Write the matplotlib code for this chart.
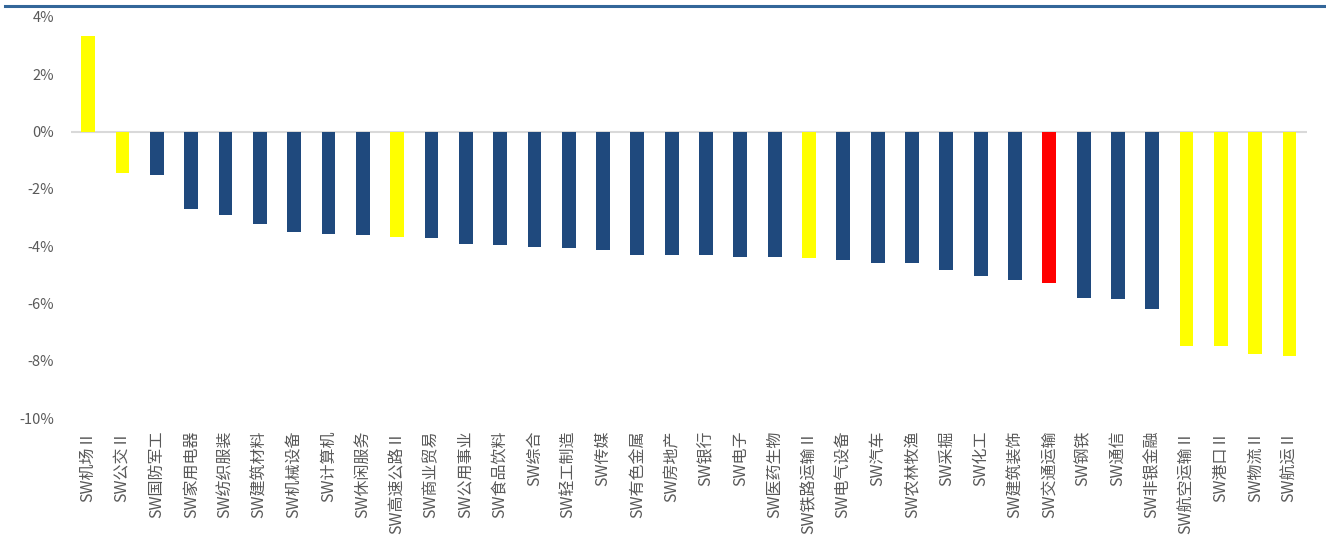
import matplotlib
matplotlib.use('Agg')
import matplotlib.pyplot as plt
from matplotlib.lines import Line2D
from matplotlib.ticker import FuncFormatter

plt.rcParams['font.family'] = ['Noto Sans CJK SC', 'DejaVu Sans']

# 申万行业周涨跌幅（%）
industries = [
    'SW机场Ⅱ', 'SW公交Ⅱ', 'SW国防军工', 'SW家用电器', 'SW纺织服装', 'SW建筑材料',
    'SW机械设备', 'SW计算机', 'SW休闲服务', 'SW高速公路Ⅱ', 'SW商业贸易', 'SW公用事业',
    'SW食品饮料', 'SW综合', 'SW轻工制造', 'SW传媒', 'SW有色金属', 'SW房地产',
    'SW银行', 'SW电子', 'SW医药生物', 'SW铁路运输Ⅱ', 'SW电气设备', 'SW汽车',
    'SW农林牧渔', 'SW采掘', 'SW化工', 'SW建筑装饰', 'SW交通运输', 'SW钢铁',
    'SW通信', 'SW非银金融', 'SW航空运输Ⅱ', 'SW港口Ⅱ', 'SW物流Ⅱ', 'SW航运Ⅱ',
]
changes = [
    3.33, -1.44, -1.50, -2.70, -2.93, -3.21,
    -3.49, -3.56, -3.62, -3.68, -3.73, -3.91,
    -3.95, -4.02, -4.08, -4.13, -4.30, -4.30,
    -4.30, -4.37, -4.37, -4.43, -4.48, -4.60,
    -4.60, -4.83, -5.05, -5.18, -5.28, -5.81,
    -5.86, -6.21, -7.47, -7.47, -7.76, -7.82,
]
# 交通运输子行业标黄，交通运输一级行业标红
groups = [
    'sub', 'sub', 'other', 'other', 'other', 'other',
    'other', 'other', 'other', 'sub', 'other', 'other',
    'other', 'other', 'other', 'other', 'other', 'other',
    'other', 'other', 'other', 'sub', 'other', 'other',
    'other', 'other', 'other', 'other', 'main', 'other',
    'other', 'other', 'sub', 'sub', 'sub', 'sub',
]
y_ticks = [-10, -8, -6, -4, -2, 0, 2, 4]

palette = {'sub': '#FFFF00', 'main': '#FF0000', 'other': '#1F497D'}
colors = [palette[g] for g in groups]

fig = plt.figure(figsize=(13.26, 5.43), dpi=100)
ax = fig.add_axes([0.0535, 0.2302, 0.932, 0.7385])

x = range(len(industries))
ax.bar(x, changes, width=0.4, color=colors, linewidth=0, zorder=2)
ax.axhline(0, color='#D9D9D9', linewidth=1.5, zorder=1)

ax.set_xlim(-0.5, len(industries) - 0.5)
ax.set_ylim(-10, 4)
ax.set_yticks(y_ticks)
ax.yaxis.set_major_formatter(FuncFormatter(lambda v, _: f'{v:.0f}%'))
ax.set_xticks(list(x))
ax.set_xticklabels(industries, rotation=90, va='top', ha='center')

ax.tick_params(axis='y', length=0, pad=12, labelsize=10.5, labelcolor='#595959')
ax.tick_params(axis='x', length=0, pad=9, labelsize=11.5, labelcolor='#595959')
for side in ['top', 'right', 'bottom', 'left']:
    ax.spines[side].set_visible(False)

# 顶部装饰线
fig.add_artist(Line2D([0.004, 0.999], [0.989, 0.989], color='#336699', linewidth=2.2,
                      transform=fig.transFigure))

fig.savefig('out.png', dpi=100)
